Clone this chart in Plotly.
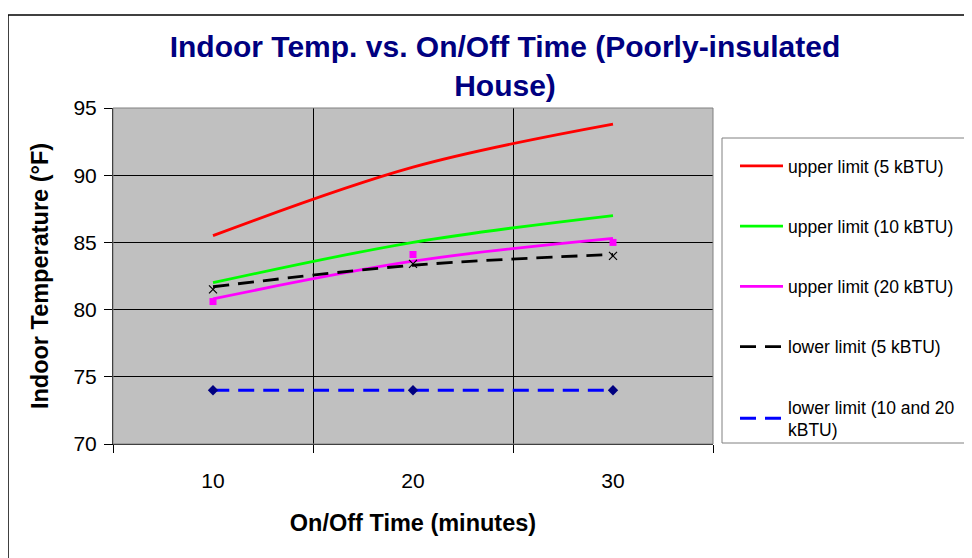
import plotly.graph_objects as go

# ---- data ----
categories = ["10", "20", "30"]
upper_5 = [85.5, 90.6, 93.8]
upper_10 = [82.0, 85.0, 87.0]
upper_20 = [80.8, 83.6, 85.3]
upper_20_pts = [80.6, 84.1, 85.0]
lower_5 = [81.7, 83.3, 84.1]
lower_5_pts = [81.5, 83.4, 84.0]
lower_10_20 = [74.0, 74.0, 74.0]
y_ticks = [70, 75, 80, 85, 90, 95]

FONT = "Liberation Sans, Arial, sans-serif"
OFF = 8  # page offset of the figure in the browser
W, H = 972 - OFF, 558 - OFF
# plot area in page pixels: x 113..713, y 108..444
PX0, PX1, PY0, PY1 = 113, 713, 108, 444
L = PX0 - OFF
T = PY0 - OFF
R = W - L - (PX1 - PX0)
B = H - T - (PY1 - PY0)


def px_x(px):
    return (px - PX0) / (PX1 - PX0)


def px_y(py):
    return (PY1 - py) / (PY1 - PY0)


fig = go.Figure()

line_specs = [
    ("upper limit (5 kBTU)", upper_5, "#FF0000", "solid"),
    ("upper limit (10 kBTU)", upper_10, "#00FF00", "solid"),
    ("upper limit (20 kBTU)", upper_20, "#FF00FF", "solid"),
    ("lower limit (5 kBTU)", lower_5, "#000000", "16px,9px"),
    ("lower limit (10 and 20<br>kBTU)", lower_10_20, "#0000FF", "16px,9px"),
]
for i, (name, ys, col, dash) in enumerate(line_specs):
    fig.add_trace(go.Scatter(
        x=categories, y=ys, mode="lines", name=name,
        line=dict(color=col, width=2.8, dash=dash, shape="spline", smoothing=1.0),
        legendgroup=f"g{i}",
    ))

fig.add_trace(go.Scatter(
    x=categories, y=upper_20_pts, mode="markers", showlegend=False,
    marker=dict(symbol="square", size=7, color="#FF00FF"),
))
fig.add_trace(go.Scatter(
    x=categories, y=lower_5_pts, mode="markers", showlegend=False,
    marker=dict(symbol="x-thin", size=8, line=dict(color="#000000", width=1.2)),
))
fig.add_trace(go.Scatter(
    x=categories, y=lower_10_20, mode="markers", showlegend=False,
    marker=dict(symbol="diamond", size=8, color="#000080"),
))

fig.update_layout(
    width=W, height=H,
    margin=dict(l=L, r=R, t=T, b=B, pad=0),
    paper_bgcolor="white",
    plot_bgcolor="#C0C0C0",
    font=dict(family=FONT, color="black"),
    title=dict(
        text="<b>Indoor Temp. vs. On/Off Time (Poorly-insulated<br>House)</b>",
        font=dict(family=FONT, size=30, color="#000080"),
        x=(505 - OFF) / W, xanchor="center", xref="container",
        y=1 - (28 + 29 - OFF) / H, yanchor="top", yref="container",
    ),
    legend=dict(
        x=px_x(735), y=px_y(148), xanchor="left", yanchor="top",
        bgcolor="rgba(0,0,0,0)", borderwidth=0,
        font=dict(family=FONT, size=17.5, color="black"),
        tracegroupgap=34.5, traceorder="grouped", itemwidth=43,
    ),
    showlegend=True,
)

fig.update_xaxes(
    type="category", range=[-0.5, 2.5], tickson="boundaries",
    showgrid=True, gridcolor="#000000", gridwidth=1,
    showline=True, linecolor="#000000", linewidth=1,
    ticks="outside", ticklen=8, tickcolor="#000000",
    tickfont=dict(family=FONT, size=21, color="black"),
    ticklabelstandoff=18,
    title=dict(text="<b>On/Off Time (minutes)</b>",
               font=dict(family=FONT, size=23.5, color="black"), standoff=23),
    zeroline=False,
)
fig.update_yaxes(
    range=[70, 95], tickvals=y_ticks,
    showgrid=True, gridcolor="#000000", gridwidth=1,
    showline=True, linecolor="#000000", linewidth=1,
    ticks="outside", ticklen=8, tickcolor="#000000",
    tickfont=dict(family=FONT, size=21, color="black"),
    ticklabelstandoff=3,
    title=dict(text="<b>Indoor Temperature (°F)</b>",
               font=dict(family=FONT, size=23.5, color="black"), standoff=18),
    zeroline=False,
)

# plot-area border, legend box and outer chart border
fig.add_shape(type="rect", xref="paper", yref="paper", x0=0, x1=1, y0=0, y1=1,
              line=dict(color="#808080", width=1), layer="above")
fig.add_shape(type="rect", xref="paper", yref="paper",
              x0=px_x(722), x1=px_x(1100), y0=px_y(443), y1=px_y(138),
              line=dict(color="#808080", width=1), fillcolor="white", layer="below")
fig.add_shape(type="line", xref="paper", yref="paper",
              x0=px_x(8), x1=px_x(8), y0=px_y(15), y1=px_y(600),
              line=dict(color="black", width=1.5))
fig.add_shape(type="line", xref="paper", yref="paper",
              x0=px_x(8), x1=px_x(1100), y0=px_y(15), y1=px_y(15),
              line=dict(color="black", width=1.5))

fig.write_html("out.html")
